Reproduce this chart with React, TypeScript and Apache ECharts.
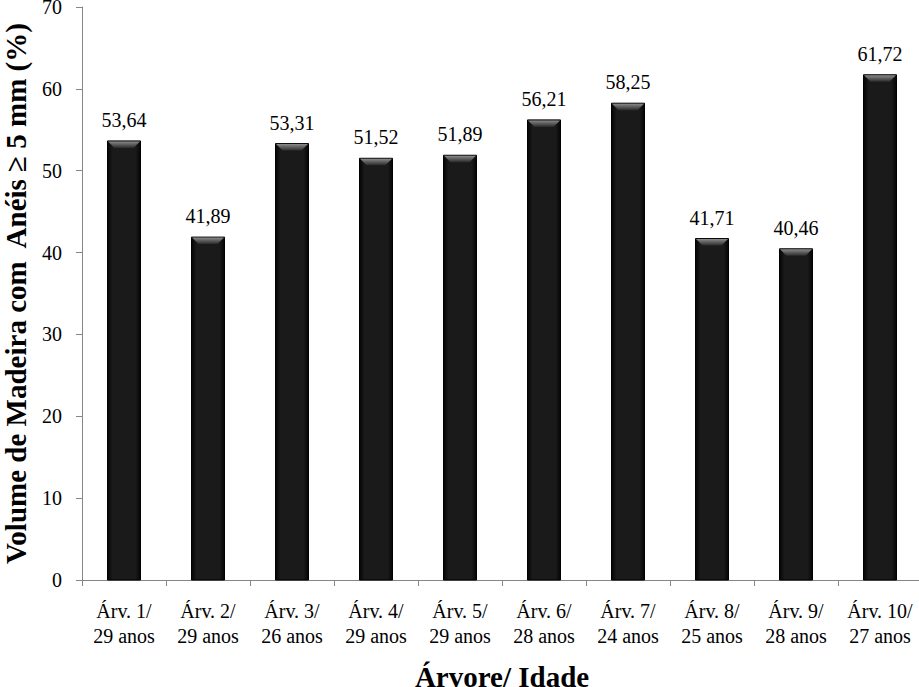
import React, { useEffect, useRef } from "react";
import * as echarts from "echarts";

const categories = [
  "Árv. 1/\n29 anos",
  "Árv. 2/\n29 anos",
  "Árv. 3/\n26 anos",
  "Árv. 4/\n29 anos",
  "Árv. 5/\n29 anos",
  "Árv. 6/\n28 anos",
  "Árv. 7/\n24 anos",
  "Árv. 8/\n25 anos",
  "Árv. 9/\n28 anos",
  "Árv. 10/\n27 anos",
];
const values = [53.64, 41.89, 53.31, 51.52, 51.89, 56.21, 58.25, 41.71, 40.46, 61.72];

const SERIF = "'Times New Roman', 'Liberation Serif', 'DejaVu Serif', serif";

export default function App() {
  const ref = useRef<HTMLDivElement>(null);
  useEffect(() => {
    if (!ref.current) return;
    const chart = echarts.init(ref.current, undefined, { renderer: "svg" });
    const barW = 33;
    chart.setOption({
      animation: false,
      backgroundColor: "#ffffff",
      textStyle: { fontFamily: SERIF },
      grid: { left: 82, top: 7, width: 840, bottom: 107, containLabel: false, outerBoundsMode: "none" },
      xAxis: {
        type: "category",
        data: categories,
        name: "Árvore/ Idade",
        nameLocation: "middle",
        nameGap: 82,
        nameTextStyle: { fontFamily: SERIF, fontSize: 29, fontWeight: "bold", color: "#000" },
        axisLine: { show: true, lineStyle: { color: "#868686", width: 1 } },
        axisTick: { show: true, length: 6, lineStyle: { color: "#868686" } },
        axisLabel: { fontFamily: SERIF, fontSize: 20, color: "#000", margin: 18, lineHeight: 25, interval: 0 },
      },
      yAxis: {
        type: "value",
        min: 0,
        max: 70,
        interval: 10,
        name: "Volume de Madeira com  Anéis ≥ 5 mm (%)",
        nameLocation: "middle",
        nameGap: 52,
        nameRotate: 90,
        nameTextStyle: { fontFamily: SERIF, fontSize: 29, fontWeight: "bold", color: "#000" },
        axisLine: { show: true, lineStyle: { color: "#868686", width: 1 } },
        axisTick: { show: true, length: 6, inside: false, lineStyle: { color: "#868686" } },
        axisLabel: { fontFamily: SERIF, fontSize: 20, color: "#000", margin: 20 },
        splitLine: { show: false },
      },
      series: [
        {
          type: "custom",
          data: values.map((v, i) => [i, v]),
          encode: { x: 0, y: 1 },
          renderItem: (params: any, api: any) => {
            const top = api.coord([api.value(0), api.value(1)]);
            const base = api.coord([api.value(0), 0]);
            const x0 = top[0] - barW / 2;
            const x1 = top[0] + barW / 2;
            const y0 = top[1];
            const y1 = base[1];
            const bev = 7;
            return {
              type: "group",
              children: [
                {
                  type: "rect",
                  shape: { x: x0, y: y0, width: barW, height: y1 - y0 },
                  style: {
                    fill: new echarts.graphic.LinearGradient(0, 0, 1, 0, [
                      { offset: 0, color: "#050505" },
                      { offset: 0.15, color: "#1a1a1a" },
                      { offset: 0.85, color: "#1a1a1a" },
                      { offset: 1, color: "#050505" },
                    ]),
                    stroke: "#000",
                    lineWidth: 1,
                  },
                },
                {
                  type: "polygon",
                  shape: {
                    points: [
                      [x0 + 0.5, y0 + 0.5],
                      [x1 - 0.5, y0 + 0.5],
                      [x1 - bev, y0 + bev],
                      [x0 + bev, y0 + bev],
                    ],
                  },
                  style: {
                    fill: new echarts.graphic.LinearGradient(0, 0, 0, 1, [
                      { offset: 0, color: "#8a8a8a" },
                      { offset: 1, color: "#2a2a2a" },
                    ]),
                  },
                },
                {
                  type: "text",
                  style: {
                    text: api.value(1).toFixed(2).replace(".", ","),
                    x: top[0],
                    y: y0 - 21,
                    align: "center",
                    verticalAlign: "middle",
                    fontFamily: SERIF,
                    fontSize: 20,
                    fill: "#000",
                  },
                },
              ],
            };
          },
        },
      ],
    });
    return () => chart.dispose();
  }, []);
  return (
    <div
      ref={ref}
      style={{ position: "absolute", left: 0, top: 0, width: 919, height: 687 }}
    />
  );
}
